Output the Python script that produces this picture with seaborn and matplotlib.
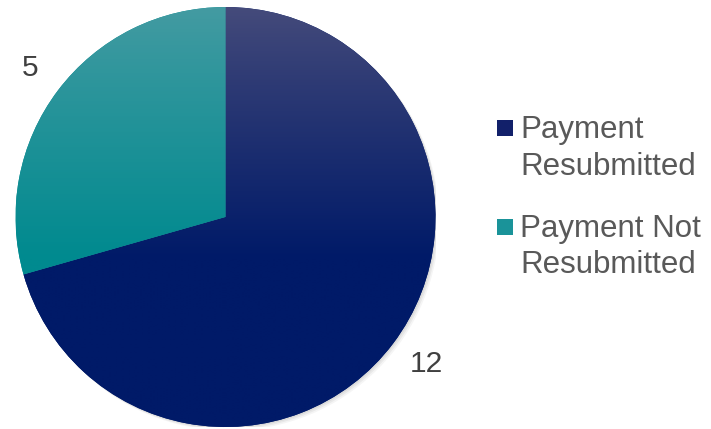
import numpy as np
import matplotlib
matplotlib.use("Agg")
import matplotlib.pyplot as plt
from matplotlib.colors import LinearSegmentedColormap
from matplotlib.patches import Circle, Rectangle
import seaborn as sns

sns.set_theme(style="white")
plt.rcParams['font.family'] = ['Liberation Sans', 'DejaVu Sans']

categories = ["Payment\nResubmitted", "Payment Not\nResubmitted"]
values = [12, 5]
value_labels = ["12", "5"]
top_colors = ["#454b7b", "#449ba2"]
bottom_colors = ["#001a68", "#008a8f"]
legend_colors = ["#12206a", "#1a9399"]

W, H = 711, 429
fig = plt.figure(figsize=(W / 100, H / 100), dpi=100)
fig.patch.set_facecolor("white")

cx, cy, r = 225.5, 217, 210
ax = fig.add_axes([(cx - r) / W, (H - cy - r) / H, 2 * r / W, 2 * r / H])
ax.set_xlim(-1.0, 1.0)
ax.set_ylim(-1.0, 1.0)
ax.set_aspect("equal")
ax.axis("off")

# soft shadow
for k, a in enumerate([0.06, 0.05, 0.04]):
    off = 0.006 * (k + 1)
    ax.add_patch(Circle((off, -off), 1.0, color="black", alpha=a, lw=0, zorder=0))

wedges, texts = ax.pie(values, labels=value_labels, startangle=90, counterclock=False,
                       labeldistance=1.13, radius=1.0,
                       colors=bottom_colors,
                       wedgeprops=dict(linewidth=0),
                       textprops=dict(fontsize=21.5, color="#404040"))
# fine placement of the value labels (centre of text)
label_pos = [(0.957, -0.700), (-0.931, 0.710)]
for t, p in zip(texts, label_pos):
    t.set_position(p)
    t.set_ha("center")
    t.set_va("center")

grad = np.linspace(0, 1, 256).reshape(-1, 1)
grad = np.clip(grad / 0.6, 0, 1) ** 0.9
for w, tc, bc in zip(wedges, top_colors, bottom_colors):
    cmap = LinearSegmentedColormap.from_list("g", [tc, bc])
    im = ax.imshow(grad, cmap=cmap, extent=[-1, 1, -1, 1], origin="upper",
                   aspect="auto", zorder=2, interpolation="bilinear")
    im.set_clip_path(w)
ax.set_xlim(-1.0, 1.0)
ax.set_ylim(-1.0, 1.0)

# legend
sq_x, sq_size = 497, 16
sq_tops = [120, 219]
lines = [[("Payment", 138), ("Resubmitted", 175)], [("Payment Not", 237), ("Resubmitted", 273)]]
for i, cat in enumerate(categories):
    fig.patches.append(Rectangle((sq_x / W, 1 - (sq_tops[i] + sq_size) / H), sq_size / W, sq_size / H,
                                 transform=fig.transFigure, facecolor=legend_colors[i], lw=0))
    for txt, base in lines[i]:
        fig.text(520 / W, 1 - base / H, txt, fontsize=22.5, color="#595959", va="baseline", ha="left")

fig.savefig("out.png", dpi=100, facecolor="white")
